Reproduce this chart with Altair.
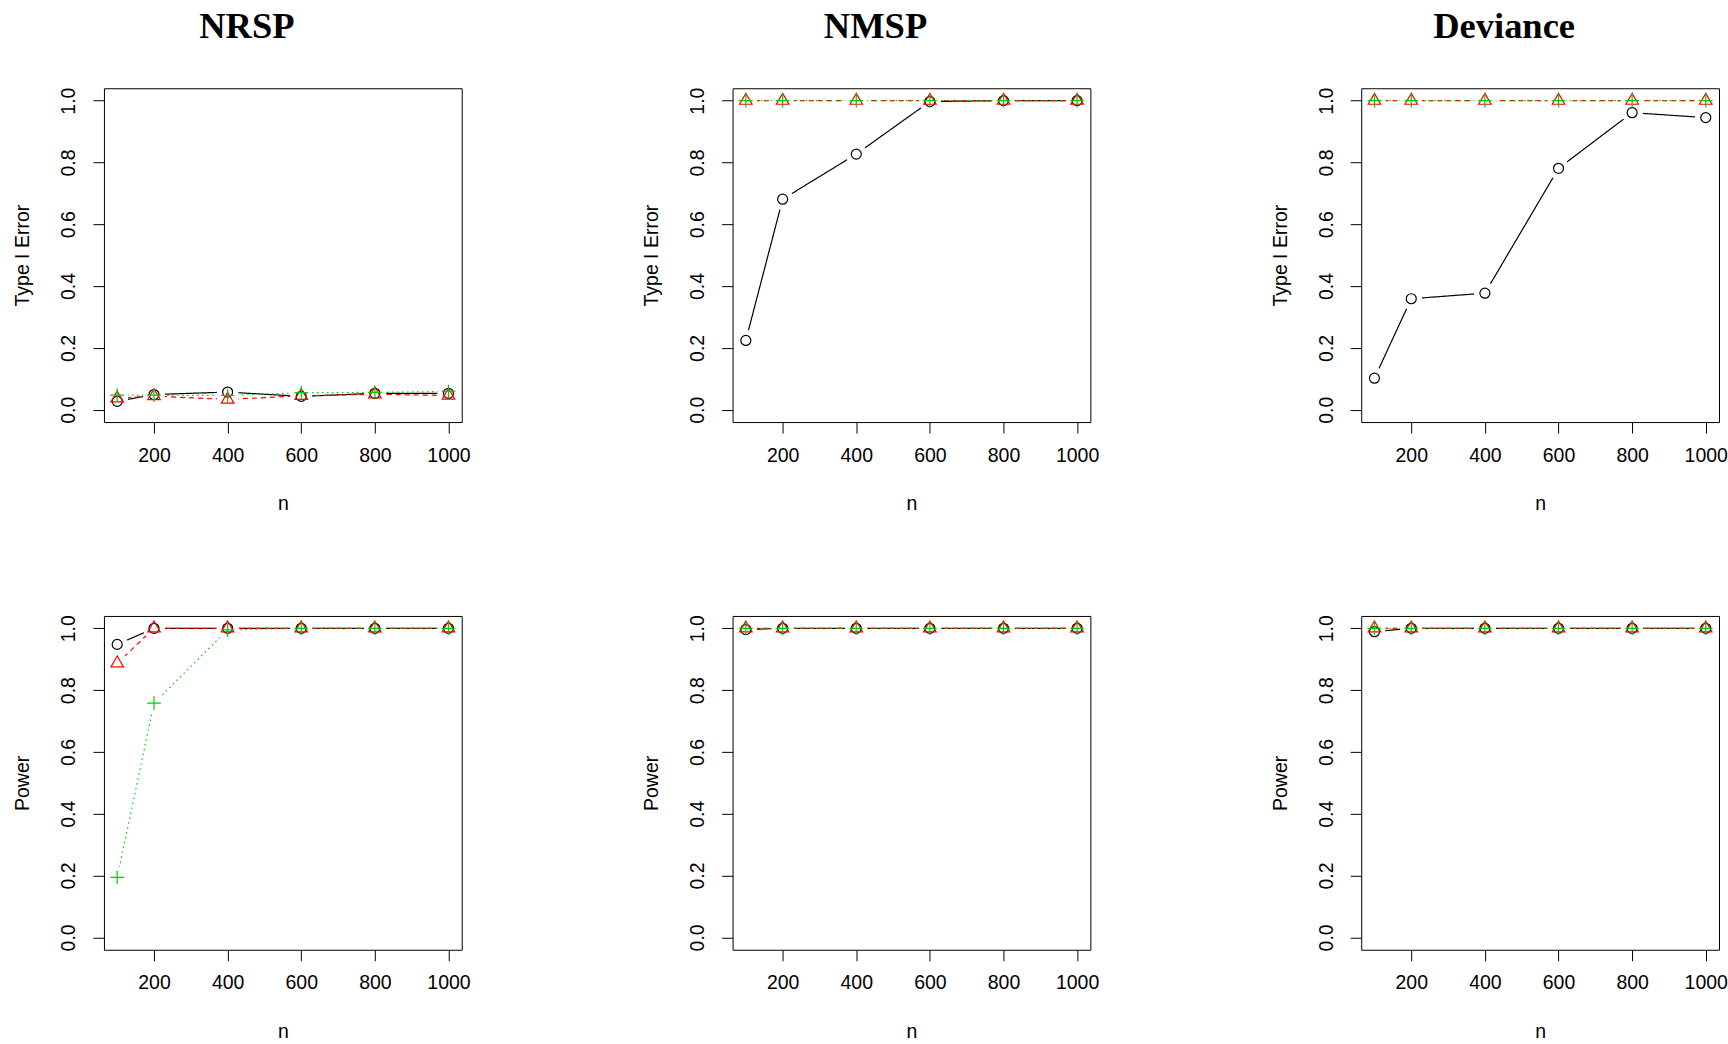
import altair as alt
import pandas as pd

# ---------------- data ----------------
n_values = [100, 200, 400, 600, 800, 1000]
x_ticks = [200, 400, 600, 800, 1000]
y_ticks = [0.0, 0.2, 0.4, 0.6, 0.8, 1.0]
panel_titles = ["NRSP", "NMSP", "Deviance"]
row_titles = ["Type I Error", "Power"]

# Type I error
nrsp_t1_black = [0.027, 0.049, 0.057, 0.043, 0.053, 0.053]
nrsp_t1_red = [0.037, 0.044, 0.033, 0.045, 0.050, 0.046]
nrsp_t1_green = [0.047, 0.047, 0.046, 0.055, 0.056, 0.059]

nmsp_t1_black = [0.224, 0.681, 0.827, 0.997, 1.0, 1.0]
nmsp_t1_red = [1.0, 1.0, 1.0, 1.0, 1.0, 1.0]
nmsp_t1_green = [1.0, 1.0, 1.0, 1.0, 1.0, 1.0]

dev_t1_black = [0.102, 0.359, 0.377, 0.781, 0.961, 0.945]
dev_t1_red = [1.0, 1.0, 1.0, 1.0, 1.0, 1.0]
dev_t1_green = [1.0, 1.0, 1.0, 1.0, 1.0, 1.0]

# Power
nrsp_pw_black = [0.948, 1.0, 1.0, 1.0, 1.0, 1.0]
nrsp_pw_red = [0.887, 1.0, 1.0, 1.0, 1.0, 1.0]
nrsp_pw_green = [0.194, 0.758, 0.995, 1.0, 1.0, 1.0]

nmsp_pw_black = [0.996, 1.0, 1.0, 1.0, 1.0, 1.0]
nmsp_pw_red = [1.0, 1.0, 1.0, 1.0, 1.0, 1.0]
nmsp_pw_green = [1.0, 1.0, 1.0, 1.0, 1.0, 1.0]

dev_pw_black = [0.989, 1.0, 1.0, 1.0, 1.0, 1.0]
dev_pw_red = [1.0, 1.0, 1.0, 1.0, 1.0, 1.0]
dev_pw_green = [1.0, 1.0, 1.0, 1.0, 1.0, 1.0]

# ---------------- styles ----------------
BLACK = "#000000"
RED = "#FF0000"
GREEN = "#00CD00"
CIRCLE = "circle"
TRIANGLE = "M0,-1L0.866,0.5L-0.866,0.5Z"
PLUS = "M-1,0L1,0M0,-1L0,1"

series_style = [
    # color, dash, shape, size
    (BLACK, [1, 0], CIRCLE, 100),
    (RED, [5, 4], TRIANGLE, 210),
    (GREEN, [1.5, 3.5], PLUS, 185),
]

PW, PH = 358, 334


def panel(black, red, green, ytitle, title=None):
    frames = []
    for k, vals in enumerate([black, red, green]):
        frames.append(pd.DataFrame({"n": n_values, "v": vals, "s": k}))
    df = pd.concat(frames, ignore_index=True)

    x = alt.X(
        "n:Q",
        scale=alt.Scale(domain=[64, 1036], nice=False, zero=False),
        axis=alt.Axis(values=x_ticks, format="d", title="n"),
    )
    y = alt.Y(
        "v:Q",
        scale=alt.Scale(domain=[-0.04, 1.04], nice=False, zero=False),
        axis=alt.Axis(values=y_ticks, format=".1f", title=ytitle),
    )
    base = alt.Chart(df)
    layers = []
    for k, (col, dash, shape, size) in enumerate(series_style):
        layers.append(
            base.transform_filter(alt.datum.s == k)
            .mark_line(color=col, strokeDash=dash, strokeWidth=1.2)
            .encode(x=x, y=y)
        )
    # gaps around the points (type = "b")
    layers.append(
        base.mark_point(shape="circle", filled=True, color="white", opacity=1, size=470)
        .encode(x=x, y=y)
    )
    for k, (col, dash, shape, size) in enumerate(series_style):
        layers.append(
            base.transform_filter(alt.datum.s == k)
            .mark_point(shape=shape, filled=False, color=col, opacity=1,
                        size=size, strokeWidth=1.2)
            .encode(x=x, y=y)
        )
    ch = alt.layer(*layers).properties(width=PW, height=PH)
    if title:
        ch = ch.properties(
            title=alt.TitleParams(
                text=title,
                font="Liberation Serif",
                fontSize=36.5,
                fontWeight="bold",
                color="black",
                anchor="middle",
                frame="group",
                baseline="alphabetic",
                offset=13,
                dx=-36,
            )
        )
    return ch


panels = [
    panel(nrsp_t1_black, nrsp_t1_red, nrsp_t1_green, row_titles[0], panel_titles[0]),
    panel(nmsp_t1_black, nmsp_t1_red, nmsp_t1_green, row_titles[0], panel_titles[1]),
    panel(dev_t1_black, dev_t1_red, dev_t1_green, row_titles[0], panel_titles[2]),
    panel(nrsp_pw_black, nrsp_pw_red, nrsp_pw_green, row_titles[1]),
    panel(nmsp_pw_black, nmsp_pw_red, nmsp_pw_green, row_titles[1]),
    panel(dev_pw_black, dev_pw_red, dev_pw_green, row_titles[1]),
]

chart = (
    alt.concat(*panels, columns=3, spacing={"row": 194, "column": 271}, bounds="flush")
    .properties(padding={"left": 12, "top": 7, "right": 0, "bottom": 0}, background="white")
    .configure_view(stroke="black", strokeWidth=1)
    .configure_axis(
        domain=False,
        grid=False,
        labelFont="Liberation Sans",
        labelFontSize=19.5,
        labelColor="black",
        titleFont="Liberation Sans",
        titleFontSize=19.5,
        titleFontWeight="normal",
        titleColor="black",
        tickColor="black",
        tickSize=11,
        tickWidth=1,
        labelFlush=False,
        labelOverlap=False,
    )
    .configure_axisX(labelPadding=13, titlePadding=30)
    .configure_axisY(labelPadding=14, titlePadding=26, labelAngle=270,
                     labelAlign="center", labelBaseline="bottom")
)

chart.save("out.html", embed_options={"renderer": "svg", "actions": False})
